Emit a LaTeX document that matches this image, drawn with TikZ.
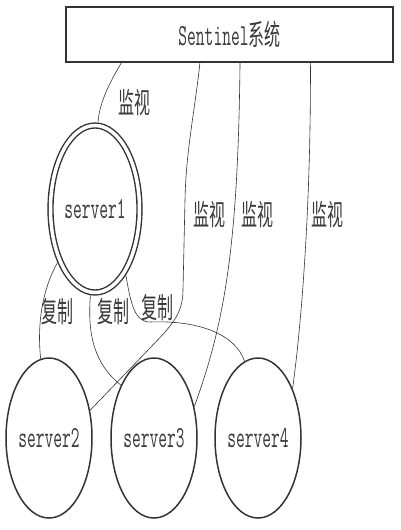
\documentclass[tikz,border=0pt]{standalone}
\usepackage{fontspec}
\usepackage{graphicx}
\usetikzlibrary{shapes.geometric,calc}
\newfontfamily\cjkf{Noto Sans CJK SC}
\newcommand{\monof}{\ttfamily}
\newcommand{\tallt}[1]{\scalebox{1}[1.8]{#1}}
\newcommand{\srvtext}[1]{\makebox[0pt]{\tallt{#1}}}
\definecolor{ink}{HTML}{333333}
\definecolor{txt}{HTML}{3A3A3A}
\begin{document}
\begin{tikzpicture}[x=1pt,y=-1pt,
  srv/.style={ellipse, draw=ink, line width=1.5pt, minimum width=86pt, minimum height=160pt, inner sep=0pt, text=txt, font=\monof\fontsize{17}{17}\selectfont},
  wire/.style={draw=ink, line width=0.6pt},
  lbl/.style={text=txt, inner sep=0pt, font=\cjkf\fontsize{16}{16}\selectfont}]
\useasboundingbox (0,0) rectangle (400,530);
\node[draw=ink, line width=2pt, minimum width=327pt, minimum height=55pt, inner sep=0pt, text=txt] (sys) at (229.5,34.5)
  {\tallt{{\monof\fontsize{17}{17}\selectfont Sentinel}{\cjkf\fontsize{16}{16}\selectfont 系统}}};
\node[srv, double, double distance=3.5pt, line width=1.4pt, minimum width=89pt, minimum height=167pt, outer sep=3.2pt] (s1) at (95,209) {\srvtext{server1}};
\node[srv] (s2) at (49,438) {\srvtext{server2}};
\node[srv] (s3) at (154,438) {\srvtext{server3}};
\node[srv] (s4) at (258,438) {\srvtext{server4}};
% monitoring
\draw[wire] ($(sys.south west)!0.171!(sys.south east)$) .. controls (108,85) and (99,105) .. (s1.88);
\draw[wire] ($(sys.south west)!0.41!(sys.south east)$) .. controls (195,110) and (186,150) .. (185,200) -- (183,290) .. controls (183,315) and (170,327) .. (150,348) -- (s2.34);
\draw[wire] ($(sys.south west)!0.532!(sys.south east)$) .. controls (238,240) and (226,320) .. (s3.38);
\draw[wire] ($(sys.south west)!0.746!(sys.south east)$) .. controls (311,200) and (302,320) .. (s4.55);
% replication
\draw[wire] (s1.235) .. controls (42,290) and (37,325) .. (s2.96);
\draw[wire] (s1.267) .. controls (87,335) and (95,365) .. (s3.122);
\draw[wire] (s1.295) .. controls (131,305) and (135,322) .. (150,322) .. controls (200,320) and (236,335) .. (s4.100);
% labels
\node[lbl] (m1) at (134,103) {\tallt{监视}};
\node[lbl] (m2) at (209,215) {\tallt{监视}};
\node[lbl] (m3) at (257,215) {\tallt{监视}};
\node[lbl] (m4) at (327,215) {\tallt{监视}};
\node[lbl] (r1) at (57,312) {\tallt{复制}};
\node[lbl] (r2) at (113,312) {\tallt{复制}};
\node[lbl] (r3) at (157,308) {\tallt{复制}};
\end{tikzpicture}
\end{document}
